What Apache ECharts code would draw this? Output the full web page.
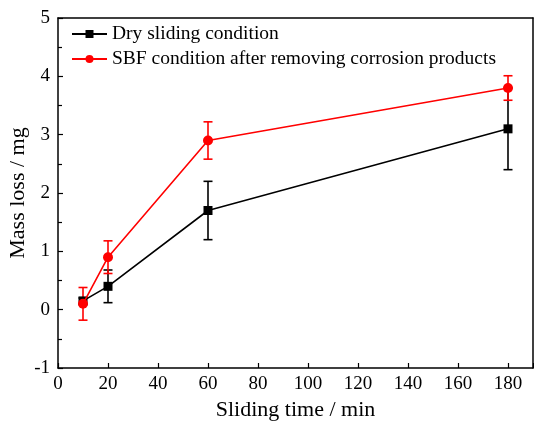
<!DOCTYPE html>
<html><head><meta charset="utf-8">
<script src="https://cdn.jsdelivr.net/npm/echarts@6/dist/echarts.min.js"></script>
<style>html,body{margin:0;padding:0;background:#fff}#c{width:534px;height:423px}</style>
</head><body><div id="c"></div>
<script>
var times = [10, 20, 60, 180];
var dryMass = [0.15, 0.40, 1.70, 3.10];
var dryErr = [0.05, 0.28, 0.50, 0.70];
var sbfMass = [0.10, 0.90, 2.90, 3.80];
var sbfErr = [0.28, 0.28, 0.32, 0.21];
var xTicks = [0, 20, 40, 60, 80, 100, 120, 140, 160, 180];
var yTicks = [-1, 0, 1, 2, 3, 4, 5];
var dryName = 'Dry sliding condition';
var sbfName = 'SBF condition after removing corrosion products';

function pts(v){ return times.map(function(t,i){return [t, v[i]];}); }
function errs(v,e){ return times.map(function(t,i){return [t, v[i]-e[i], v[i]+e[i]];}); }
function errSeries(data, color, z){
  return {
    type:'custom', data:data, z:z, silent:true,
    renderItem:function(params, api){
      var x = api.value(0);
      var lo = api.coord([x, api.value(1)]);
      var hi = api.coord([x, api.value(2)]);
      var w = 4.5;
      var st = {stroke:color, lineWidth:1.6};
      return {type:'group', children:[
        {type:'line', shape:{x1:lo[0],y1:lo[1],x2:hi[0],y2:hi[1]}, style:st},
        {type:'line', shape:{x1:lo[0]-w,y1:lo[1],x2:lo[0]+w,y2:lo[1]}, style:st},
        {type:'line', shape:{x1:hi[0]-w,y1:hi[1],x2:hi[0]+w,y2:hi[1]}, style:st}
      ]};
    }
  };
}
var font = 'Liberation Serif, Times New Roman, serif';
var chart = echarts.init(document.getElementById('c'));
chart.setOption({
  animation:false,
  grid:{left:58, right:1, top:18, bottom:55, show:false, containLabel:false, outerBoundsMode:'none'},
  legend:{
    left:66, top:19, orient:'vertical', itemGap:5, itemWidth:35, itemHeight:10,
    textStyle:{fontFamily:font, fontSize:19.5, color:'#000'},
    data:[{name:dryName},{name:sbfName}]
  },
  xAxis:[{
    type:'value', min:0, max:190, interval:20,
    name:'Sliding time / min', nameLocation:'middle', nameGap:30,
    nameTextStyle:{fontFamily:font, fontSize:22, color:'#000'},
    axisLine:{show:true, onZero:false, lineStyle:{color:'#000', width:1.5}},
    axisTick:{show:true, inside:true, length:5, lineStyle:{color:'#000', width:1.2}},
    axisLabel:{fontFamily:font, fontSize:19, color:'#000', margin:7,
      formatter:function(v){return xTicks.indexOf(v)>=0 ? String(v) : '';}},
    splitLine:{show:false}
  },{
    type:'value', position:'top', min:0, max:190, interval:20,
    axisLine:{show:true, onZero:false, lineStyle:{color:'#000', width:1.5}},
    axisTick:{show:false}, axisLabel:{show:false}, splitLine:{show:false}
  }],
  yAxis:[{
    type:'value', min:-1, max:5, interval:1,
    name:'Mass loss / mg', nameLocation:'middle', nameGap:29, nameMoveOverlap:false,
    nameTextStyle:{fontFamily:font, fontSize:22, color:'#000'},
    axisLine:{show:true, onZero:false, lineStyle:{color:'#000', width:1.5}},
    axisTick:{show:true, inside:true, length:5, lineStyle:{color:'#000', width:1.2}},
    minorTick:{show:true, splitNumber:2, length:4, lineStyle:{color:'#000', width:1.2}},
    axisLabel:{fontFamily:font, fontSize:19, color:'#000', margin:8,
      formatter:function(v){return yTicks.indexOf(v)>=0 ? String(v) : '';}},
    splitLine:{show:false}
  },{
    type:'value', position:'right', min:-1, max:5, interval:1,
    axisLine:{show:true, onZero:false, lineStyle:{color:'#000', width:1.5}},
    axisTick:{show:false}, axisLabel:{show:false}, splitLine:{show:false}
  }],
  series:[
    errSeries(errs(dryMass, dryErr), '#000', 3),
    errSeries(errs(sbfMass, sbfErr), '#ff0000', 4),
    {name:dryName, type:'line', data:pts(dryMass), symbol:'rect', symbolSize:9,
     itemStyle:{color:'#000'}, lineStyle:{color:'#000', width:1.6}, z:5},
    {name:sbfName, type:'line', data:pts(sbfMass), symbol:'circle', symbolSize:10,
     itemStyle:{color:'#ff0000'}, lineStyle:{color:'#ff0000', width:1.6}, z:6}
  ]
});
</script></body></html>
